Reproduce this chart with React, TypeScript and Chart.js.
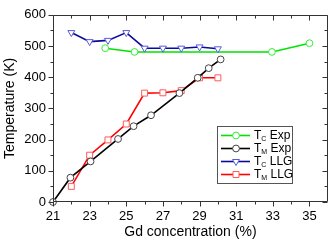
import React, { useEffect, useRef } from 'react';
import { Chart, registerables } from 'chart.js';
Chart.register(...registerables);

const tcExpX = [23.85, 25.45, 32.95, 35];
const tcExpY = [493, 481, 481, 509];
const tmExpX = [21, 21.95, 23.05, 24.55, 25.4, 26.35, 27.9, 28.9, 29.5, 30.15];
const tmExpY = [0, 78, 130, 202, 243, 278, 349, 398, 429, 457];
const tcLlgX = [22, 23, 24, 25, 26, 27, 28, 29, 30];
const tcLlgY = [543, 514, 518, 543, 493, 493, 493, 497, 491];
const tmLlgX = [22, 23, 24, 25, 26, 27, 28, 29, 30];
const tmLlgY = [50, 150, 199, 250, 349, 350, 357, 398, 398];

const xMajor = [21, 23, 25, 27, 29, 31, 33, 35];
const xMinor = [22, 24, 26, 28, 30, 32, 34];
const yMajor = [0, 100, 200, 300, 400, 500, 600];
const yMinor = [50, 150, 250, 350, 450, 550];

const legendSubs = ['C', 'M', 'C', 'M'];
const legendNames = [' Exp', ' Exp', ' LLG', ' LLG'];
const xTitle = 'Gd concentration (%)';
const yTitle = 'Temperature (K)';

const FONT = "'Liberation Sans', Arial, sans-serif";

const styles = [
  { line: '#00e400', mark: '#33ee33', shape: 'circle' },
  { line: '#000000', mark: '#444444', shape: 'circle' },
  { line: '#0a0a96', mark: '#5a5ade', shape: 'triangle' },
  { line: '#ff0000', mark: '#ff5a5a', shape: 'rect' },
];

const pts = (xs: number[], ys: number[]) => xs.map((x, i) => ({ x, y: ys[i] }));

function drawMarker(ctx: CanvasRenderingContext2D, shape: string, x: number, y: number, color: string) {
  ctx.save();
  ctx.fillStyle = '#fff';
  ctx.strokeStyle = color;
  ctx.lineWidth = 1;
  ctx.beginPath();
  if (shape === 'circle') {
    ctx.arc(x, y, 3.4, 0, Math.PI * 2);
  } else if (shape === 'triangle') {
    const r = 4;
    ctx.moveTo(x, y + r);
    ctx.lineTo(x - r * 0.866, y - r / 2);
    ctx.lineTo(x + r * 0.866, y - r / 2);
    ctx.closePath();
  } else {
    ctx.rect(x - 3, y - 3, 6, 6);
  }
  ctx.fill();
  ctx.stroke();
  ctx.restore();
}

const framePlugin = {
  id: 'frame',
  afterDraw(chart: any) {
    const ctx: CanvasRenderingContext2D = chart.ctx;
    const { left, right, top, bottom } = chart.chartArea;
    const xs = chart.scales.x;
    const ys = chart.scales.y;
    const L = Math.round(left) + 0.5;
    const R = Math.round(right) - 0.5;
    const T = Math.round(top) + 0.5;
    const B = Math.round(bottom) - 0.5;
    ctx.save();
    ctx.strokeStyle = '#333';
    ctx.lineWidth = 1;
    ctx.beginPath();
    ctx.moveTo(L, T); ctx.lineTo(R, T); ctx.lineTo(R, B); ctx.lineTo(L, B); ctx.closePath();
    const majLen = 5, minLen = 3;
    xMajor.forEach(v => {
      const p = Math.round(xs.getPixelForValue(v)) + 0.5;
      ctx.moveTo(p, B); ctx.lineTo(p, B + majLen);
      ctx.moveTo(p, T); ctx.lineTo(p, T + majLen);
    });
    xMinor.forEach(v => {
      const p = Math.round(xs.getPixelForValue(v)) + 0.5;
      ctx.moveTo(p, B); ctx.lineTo(p, B + minLen);
      ctx.moveTo(p, T); ctx.lineTo(p, T + minLen);
    });
    yMajor.forEach(v => {
      const p = Math.round(ys.getPixelForValue(v)) + 0.5;
      ctx.moveTo(L, p); ctx.lineTo(L - majLen, p);
      ctx.moveTo(R, p); ctx.lineTo(R - majLen, p);
    });
    yMinor.forEach(v => {
      const p = Math.round(ys.getPixelForValue(v)) + 0.5;
      ctx.moveTo(L, p); ctx.lineTo(L - minLen, p);
      ctx.moveTo(R, p); ctx.lineTo(R - minLen, p);
    });
    ctx.stroke();

    // legend
    const bx = 217.5, by = 126.5, bw = 75, bh = 57;
    ctx.fillStyle = '#fff';
    ctx.fillRect(bx, by, bw, bh);
    ctx.strokeStyle = '#555';
    ctx.strokeRect(bx, by, bw, bh);
    for (let i = 0; i < 4; i++) {
      const y = 135.5 + i * 13;
      const st = styles[i];
      ctx.strokeStyle = st.line;
      ctx.lineWidth = 1.6;
      ctx.beginPath();
      ctx.moveTo(221, y); ctx.lineTo(250, y);
      ctx.stroke();
      drawMarker(ctx, st.shape, 236, y, st.mark);
      ctx.fillStyle = '#000';
      ctx.textBaseline = 'middle';
      ctx.textAlign = 'left';
      ctx.font = `12px ${FONT}`;
      ctx.fillText('T', 254, y);
      const tw = ctx.measureText('T').width;
      ctx.font = `7px ${FONT}`;
      ctx.fillText(legendSubs[i], 254 + tw, y + 4);
      const sw = ctx.measureText(legendSubs[i]).width;
      ctx.font = `12px ${FONT}`;
      ctx.fillText(legendNames[i], 254 + tw + sw, y);
    }
    ctx.restore();
  },
};

export default function App() {
  const ref = useRef<HTMLCanvasElement>(null);
  useEffect(() => {
    const mk = (xs: number[], ys: number[], i: number) => {
      const st = styles[i];
      return {
        data: pts(xs, ys),
        borderColor: st.line,
        borderWidth: 1.6,
        pointStyle: st.shape,
        pointRadius: st.shape === 'rect' ? 4.2 : st.shape === 'triangle' ? 4 : 3.4,
        pointRotation: st.shape === 'triangle' ? 180 : 0,
        pointBorderColor: st.mark,
        pointBackgroundColor: '#fff',
        pointBorderWidth: 1,
        showLine: true,
        fill: false,
        tension: 0,
        clip: false as any,
      };
    };
    const chart = new Chart(ref.current!, {
      type: 'line',
      data: {
        datasets: [
          mk(tcLlgX, tcLlgY, 2),
          mk(tcExpX, tcExpY, 0),
          mk(tmExpX, tmExpY, 1),
          mk(tmLlgX, tmLlgY, 3),
        ] as any,
      },
      options: {
        animation: false,
        responsive: false,
        layout: { padding: { top: 9, right: 1, left: 0, bottom: 0 } },
        plugins: { legend: { display: false }, tooltip: { enabled: false } },
        scales: {
          x: {
            type: 'linear',
            min: 21,
            max: 36,
            grid: { display: false, drawTicks: false },
            border: { display: false },
            afterBuildTicks: (s: any) => { s.ticks = xMajor.map(v => ({ value: v })); },
            afterFit: (s: any) => { s.height = 42; },
            ticks: { color: '#000', font: { family: FONT, size: 13 }, padding: 7, maxRotation: 0, autoSkip: false },
            title: { display: true, text: xTitle, color: '#000', font: { family: FONT, size: 14 }, padding: { top: 0, bottom: 3 } },
          },
          y: {
            type: 'linear',
            min: 0,
            max: 600,
            grid: { display: false, drawTicks: false },
            border: { display: false },
            afterBuildTicks: (s: any) => { s.ticks = yMajor.map(v => ({ value: v })); },
            afterFit: (s: any) => { s.width = 53; },
            ticks: { color: '#000', font: { family: FONT, size: 13 }, padding: 7, autoSkip: false },
            title: { display: true, text: yTitle, color: '#000', font: { family: FONT, size: 14 }, padding: { top: 2, bottom: 0 } },
          },
        },
      },
      plugins: [framePlugin],
    });
    return () => chart.destroy();
  }, []);
  return (
    <div style={{ position: 'fixed', left: 0, top: 0, width: 333, height: 244, background: '#fff' }}>
      <canvas ref={ref} width={333} height={244} style={{ display: 'block', width: 333, height: 244 }} />
    </div>
  );
}
